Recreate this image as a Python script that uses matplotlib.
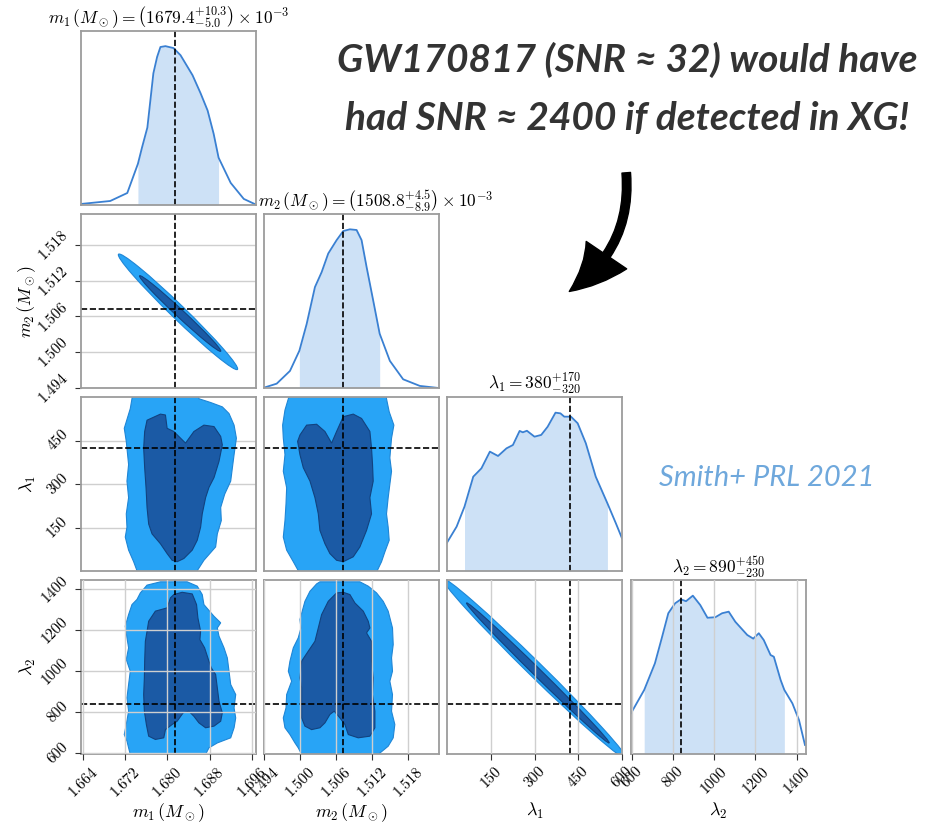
import numpy as np
import matplotlib
matplotlib.use('Agg')
import matplotlib.pyplot as plt
from matplotlib.patches import Ellipse, FancyArrowPatch
from matplotlib.ticker import FormatStrFormatter

plt.rcParams['mathtext.fontset'] = 'cm'
plt.rcParams['font.family'] = 'serif'
plt.rcParams['font.serif'] = ['cmr10']
plt.rcParams['axes.formatter.use_mathtext'] = True

# --- parameters -------------------------------------------------------------
labels = [r'$m_1\,(M_\odot)$', r'$m_2\,(M_\odot)$', r'$\lambda_1$', r'$\lambda_2$']
truths = [1.6815, 1.5072, 423, 840]
ranges = [(1.6636, 1.6968), (1.494, 1.5232), (0, 600), (596, 1445)]
xticks = [[1.664, 1.672, 1.680, 1.688, 1.696],
          [1.494, 1.500, 1.506, 1.512, 1.518],
          [150, 300, 450, 600],
          [600, 800, 1000, 1200, 1400]]
yticks = [[], [1.494, 1.500, 1.506, 1.512, 1.518], [150, 300, 450],
          [600, 800, 1000, 1200, 1400]]
tick_fmt = ['%.3f', '%.3f', '%d', '%d']

# medians and 90% bounds (titles)
medians = [1679.4, 1508.8, 380, 890]
err_plus = [10.3, 4.5, 170, 450]
err_minus = [5.0, 8.9, 320, 230]
scale = [1e-3, 1e-3, 1, 1]

# --- 1D marginals -----------------------------------------------------------
m1_x = [1.66362, 1.66914, 1.67238, 1.6744, 1.67518, 1.67619, 1.67733, 1.67804,
        1.67867, 1.67962, 1.68114, 1.68248, 1.68476, 1.68629, 1.68762, 1.68876,
        1.6897, 1.6920, 1.69448, 1.69695]
m1_pdf = [0.006, 0.023, 0.069, 0.237, 0.331, 0.445, 0.757, 0.851, 0.908, 0.913,
          0.902, 0.861, 0.746, 0.642, 0.543, 0.410, 0.272, 0.127, 0.035, 0.0]

m2_x = [1.4940, 1.49612, 1.49833, 1.4999, 1.50112, 1.50250, 1.50362, 1.50472,
        1.50612, 1.50722, 1.50833, 1.50945, 1.51028, 1.51112, 1.51222, 1.5133,
        1.51500, 1.51722, 1.52000, 1.52312]
m2_pdf = [0.002, 0.025, 0.098, 0.214, 0.368, 0.580, 0.666, 0.773, 0.850, 0.902,
          0.912, 0.908, 0.850, 0.695, 0.503, 0.312, 0.156, 0.050, 0.012, 0.0]

l1_x = [0, 33, 60, 90, 118, 147, 175, 204, 226, 249, 260, 274, 300, 323, 345,
        372, 389, 402, 425, 448, 476, 510, 550, 579, 600]
l1_pdf = [0.163, 0.255, 0.370, 0.542, 0.590, 0.686, 0.661, 0.705, 0.724, 0.805,
          0.797, 0.806, 0.772, 0.782, 0.829, 0.910, 0.906, 0.887, 0.887, 0.849,
          0.734, 0.542, 0.389, 0.274, 0.188]

l2_x = [596, 660, 712, 745, 777, 810, 838, 863, 896, 932, 967, 1005, 1038, 1070,
        1102, 1160, 1189, 1216, 1240, 1273, 1289, 1322, 1340, 1379, 1411, 1440]
l2_pdf = [0.234, 0.368, 0.521, 0.665, 0.809, 0.866, 0.889, 0.878, 0.910, 0.856,
          0.783, 0.786, 0.809, 0.818, 0.760, 0.684, 0.663, 0.694, 0.655, 0.569,
          0.559, 0.425, 0.368, 0.291, 0.195, 0.052]

# --- 2D credible regions ----------------------------------------------------
# narrow correlated ellipses: (tip a, tip b, minor width in axes fraction)
m1_m2_outer = [(1.67072, 1.51645), (1.69328, 1.49712), 0.08]
m1_m2_inner = [(1.67472, 1.51283), (1.69010, 1.50017), 0.045]
l1_l2_outer = [(-15, 1452), (615, 573), 0.085]
l1_l2_inner = [(67, 1333), (556, 650), 0.045]

m1_l1_outer = [(1.67359, 628), (1.67327, 594), (1.67295, 560), (1.67181, 492),
               (1.67219, 447), (1.67263, 367), (1.67232, 310), (1.67263, 253),
               (1.67219, 197), (1.67232, 151), (1.67200, 117), (1.67263, 72),
               (1.67359, 32), (1.67422, 1), (1.67454, -31), (1.68533, -31),
               (1.68565, 1), (1.68692, 37), (1.68914, 83), (1.68946, 128),
               (1.69022, 174), (1.69010, 219), (1.69086, 265), (1.69200, 310),
               (1.69232, 356), (1.69264, 401), (1.69308, 458), (1.69264, 503),
               (1.69168, 543), (1.69041, 566), (1.68819, 581), (1.68597, 594),
               (1.68565, 628)]
m1_l1_inner = [(1.67613, 520), (1.67867, 541), (1.67962, 538), (1.67994, 492),
               (1.68121, 481), (1.68343, 441), (1.68502, 481), (1.68692, 503),
               (1.68883, 498), (1.69010, 464), (1.69041, 435), (1.68978, 378),
               (1.68883, 322), (1.68787, 288), (1.68724, 253), (1.68660, 197),
               (1.68629, 151), (1.68565, 106), (1.68470, 72), (1.68311, 43),
               (1.68184, 32), (1.68089, 37), (1.67994, 60), (1.67867, 94),
               (1.67708, 128), (1.67644, 162), (1.67613, 219), (1.67594, 287),
               (1.67568, 356), (1.67549, 424), (1.67568, 481)]

m2_l1_outer = [(1.49889, 628), (1.49806, 594), (1.49750, 555), (1.49711, 503),
               (1.49722, 458), (1.49750, 401), (1.49722, 344), (1.49778, 287),
               (1.49767, 231), (1.49750, 174), (1.49722, 117), (1.49778, 72),
               (1.49889, 32), (1.49972, 1), (1.50000, -31), (1.51278, -31),
               (1.51289, 1), (1.51361, 32), (1.51417, 66), (1.51489, 106),
               (1.51472, 151), (1.51444, 197), (1.51472, 253), (1.51500, 299),
               (1.51528, 344), (1.51500, 390), (1.51528, 458), (1.51567, 503),
               (1.51489, 549), (1.51444, 594), (1.51433, 628)]
m2_l1_inner = [(1.49961, 447), (1.50000, 469), (1.50111, 503), (1.50278, 506),
               (1.50417, 481), (1.50528, 441), (1.50611, 481), (1.50722, 532),
               (1.50889, 541), (1.51028, 526), (1.51167, 481), (1.51194, 424),
               (1.51211, 367), (1.51222, 310), (1.51167, 253), (1.51194, 197),
               (1.51111, 140), (1.51000, 83), (1.50889, 49), (1.50722, 32),
               (1.50611, 37), (1.50500, 60), (1.50417, 94), (1.50333, 140),
               (1.50306, 197), (1.50250, 253), (1.50167, 310), (1.50056, 356),
               (1.50000, 401)]

m1_l2_outer = [(1.67867, 1436), (1.67613, 1420), (1.67486, 1382), (1.67422, 1350),
               (1.67327, 1325), (1.67263, 1276), (1.67200, 1220), (1.67232, 1163),
               (1.67263, 1114), (1.67219, 1057), (1.67295, 1000), (1.67263, 935),
               (1.67232, 870), (1.67263, 805), (1.67219, 740), (1.67181, 691),
               (1.67232, 659), (1.67263, 626), (1.67295, 594), (1.67327, 545),
               (1.68629, 545), (1.68724, 594), (1.68787, 626), (1.68946, 650),
               (1.69200, 675), (1.69264, 724), (1.69295, 772), (1.69264, 821),
               (1.69295, 886), (1.69200, 935), (1.69168, 1000), (1.69136, 1065),
               (1.69073, 1114), (1.68978, 1171), (1.68946, 1211), (1.69010, 1236),
               (1.68883, 1268), (1.68692, 1325), (1.68660, 1374), (1.68565, 1415),
               (1.68375, 1436)]
m1_l2_inner = [(1.68121, 1374), (1.68279, 1385), (1.68470, 1377), (1.68552, 1325),
               (1.68578, 1260), (1.68629, 1195), (1.68616, 1154), (1.68705, 1114),
               (1.68787, 1049), (1.68832, 1016), (1.68914, 984), (1.68946, 919),
               (1.68978, 854), (1.69041, 797), (1.69010, 756), (1.68883, 732),
               (1.68724, 724), (1.68597, 748), (1.68502, 780), (1.68406, 805),
               (1.68298, 797), (1.68184, 756), (1.68089, 740), (1.67962, 715),
               (1.67930, 675), (1.67771, 667), (1.67644, 683), (1.67600, 740),
               (1.67562, 805), (1.67549, 886), (1.67562, 967), (1.67568, 1049),
               (1.67581, 1146), (1.67613, 1195), (1.67644, 1244), (1.67771, 1293),
               (1.67994, 1309), (1.68057, 1358)]

m2_l2_outer = [(1.50333, 1436), (1.50278, 1426), (1.50167, 1390), (1.50083, 1341),
               (1.50000, 1252), (1.50017, 1211), (1.49972, 1163), (1.49889, 1114),
               (1.49833, 1049), (1.49806, 1000), (1.49861, 951), (1.49778, 886),
               (1.49767, 821), (1.49722, 772), (1.49750, 724), (1.49833, 691),
               (1.49917, 650), (1.49972, 626), (1.50028, 594), (1.50056, 545),
               (1.51278, 545), (1.51306, 594), (1.51472, 634), (1.51556, 675),
               (1.51583, 740), (1.51528, 805), (1.51544, 886), (1.51500, 951),
               (1.51544, 1000), (1.51528, 1065), (1.51556, 1130), (1.51544, 1211),
               (1.51472, 1293), (1.51389, 1341), (1.51278, 1382), (1.51139, 1415),
               (1.51000, 1436)]
m2_l2_inner = [(1.50472, 1341), (1.50611, 1382), (1.50722, 1385), (1.50833, 1374),
               (1.50917, 1333), (1.51056, 1293), (1.51139, 1244), (1.51167, 1211),
               (1.51111, 1187), (1.51194, 1146), (1.51194, 1049), (1.51222, 967),
               (1.51211, 886), (1.51250, 805), (1.51250, 724), (1.51167, 683),
               (1.50972, 675), (1.50806, 691), (1.50750, 740), (1.50667, 772),
               (1.50572, 805), (1.50500, 789), (1.50417, 748), (1.50333, 724),
               (1.50194, 715), (1.50083, 732), (1.50028, 772), (1.50028, 837),
               (1.50028, 919), (1.50000, 967), (1.50028, 1049), (1.50139, 1098),
               (1.50250, 1146), (1.50306, 1211), (1.50361, 1276)]

# --- styling ------------------------------------------------------------------
line_col = '#3a80d2'
fill_col = '#cde1f6'
outer_col = '#28a4f6'
inner_col = '#1b5aa5'
spine_col = '#9c9c9c'
grid_col = '#cfcfcf'

W, H = 927, 824
col_left = [81, 264, 447, 631]
row_top = [31, 214, 397, 580]
pw, ph = 175, 174

fig = plt.figure(figsize=(W / 100, H / 100), dpi=100)
axes = {}
for i in range(4):
    for j in range(i + 1):
        axes[i, j] = fig.add_axes([col_left[j] / W, 1 - (row_top[i] + ph) / H,
                                   pw / W, ph / H])


def style_axes(ax, i, j):
    for s in ax.spines.values():
        s.set_color(spine_col)
        s.set_linewidth(1.3)
    ax.set_xlim(ranges[j])
    ax.xaxis.set_major_formatter(FormatStrFormatter(tick_fmt[j]))
    ax.set_xticks(xticks[j])
    bottom = (i == 3)
    ax.tick_params(axis='x', direction='out', length=4 if bottom else 0,
                   labelbottom=bottom, labelsize=11, color='#333333')
    if bottom:
        for lab in ax.get_xticklabels():
            lab.set_rotation(45)
        ax.set_xlabel(labels[j], fontsize=13)
        ax.xaxis.set_label_coords(0.5, -0.27)
        ax.grid(True, axis='x', color=grid_col, lw=1.0)
    if i != j:
        ax.set_ylim(ranges[i])
        ax.yaxis.set_major_formatter(FormatStrFormatter(tick_fmt[i]))
        ax.set_yticks(yticks[i])
        left = (j == 0)
        ax.tick_params(axis='y', direction='out', length=4 if left else 0,
                       labelleft=left, labelsize=11, color='#333333')
        if left:
            for lab in ax.get_yticklabels():
                lab.set_rotation(45)
                lab.set_va('center')
            ax.set_ylabel(labels[i], fontsize=13)
            ax.yaxis.set_label_coords(-0.245, 0.5)
            ax.grid(True, axis='y', color=grid_col, lw=1.0)
    else:
        ax.set_yticks([])
    ax.set_axisbelow(not bottom)


# diagonal
diag = [(m1_x, m1_pdf), (m2_x, m2_pdf), (l1_x, l1_pdf), (l2_x, l2_pdf)]
title_x = [0.5, 0.64, 0.5, 0.5]
for k, (xs, ys) in enumerate(diag):
    ax = axes[k, k]
    xs = np.array(xs)
    ys = np.array(ys)
    lo = (medians[k] - err_minus[k]) * scale[k]
    hi = (medians[k] + err_plus[k]) * scale[k]
    mask = (xs >= lo - 1e-9) & (xs <= hi + 1e-9)
    ax.fill_between(xs, ys, where=mask, color=fill_col, lw=0)
    ax.plot(xs, ys, color=line_col, lw=1.3)
    ax.axvline(truths[k], color='k', ls='--', lw=1.2)
    ax.set_ylim(0, 1)
    name = labels[k][1:-1]
    if scale[k] != 1:
        title = (r'$%s = \left(%.1f^{+%.1f}_{-%.1f}\right) \times 10^{-3}$'
                 % (name, medians[k], err_plus[k], err_minus[k]))
    else:
        title = r'$%s = %d^{+%d}_{-%d}$' % (name, medians[k], err_plus[k], err_minus[k])
    ax.set_title(title, fontsize=12.5, x=title_x[k], pad=5)
    style_axes(ax, k, k)


def draw_ellipse(ax, spec, color, ec):
    (xa, ya), (xb, yb), minor = spec
    pa = ax.transLimits.transform((xa, ya))
    pb = ax.transLimits.transform((xb, yb))
    c = (pa + pb) / 2
    d = pb - pa
    e = Ellipse(c, width=np.hypot(*d), height=minor,
                angle=np.degrees(np.arctan2(d[1], d[0])),
                transform=ax.transAxes, facecolor=color, edgecolor=ec, lw=0.8)
    ax.add_patch(e)


def draw_region(ax, pts, color, ec):
    p = np.array(pts)
    ax.fill(p[:, 0], p[:, 1], facecolor=color, edgecolor=ec, lw=0.8)


pairs = {(1, 0): ('ell', m1_m2_outer, m1_m2_inner),
         (3, 2): ('ell', l1_l2_outer, l1_l2_inner),
         (2, 0): ('poly', m1_l1_outer, m1_l1_inner),
         (2, 1): ('poly', m2_l1_outer, m2_l1_inner),
         (3, 0): ('poly', m1_l2_outer, m1_l2_inner),
         (3, 1): ('poly', m2_l2_outer, m2_l2_inner)}

for (i, j), (kind, outer, inner) in pairs.items():
    ax = axes[i, j]
    style_axes(ax, i, j)
    if kind == 'ell':
        draw_ellipse(ax, outer, outer_col, '#1f86d6')
        draw_ellipse(ax, inner, inner_col, '#12427f')
    else:
        draw_region(ax, outer, outer_col, '#1f86d6')
        draw_region(ax, inner, inner_col, '#12427f')
    ax.axvline(truths[j], color='k', ls='--', lw=1.2)
    ax.axhline(truths[i], color='k', ls='--', lw=1.2)
    ax.set_xlim(ranges[j])
    ax.set_ylim(ranges[i])

# annotations
hand = dict(family='Lato', style='italic', weight='bold')
fig.text(627 / W, 1 - 60 / H, 'GW170817 (SNR \u2248 32) would have',
         ha='center', va='center', fontsize=28, color='#333333', **hand)
fig.text(627 / W, 1 - 118 / H, 'had SNR \u2248 2400 if detected in XG!',
         ha='center', va='center', fontsize=28, color='#333333', **hand)
fig.text(767 / W, 1 - 478 / H, 'Smith+ PRL 2021', ha='center', va='center',
         fontsize=21, color='#6fa8dc', family='Lato', style='italic')

arrow = FancyArrowPatch((626 / W, 1 - 170 / H), (567 / W, 1 - 293 / H),
                        transform=fig.transFigure,
                        connectionstyle='arc3,rad=-0.3',
                        arrowstyle='simple,head_length=1.7,head_width=1.6,tail_width=0.28',
                        mutation_scale=22, color='k')
fig.patches.append(arrow)

fig.savefig('out.png', dpi=100)
